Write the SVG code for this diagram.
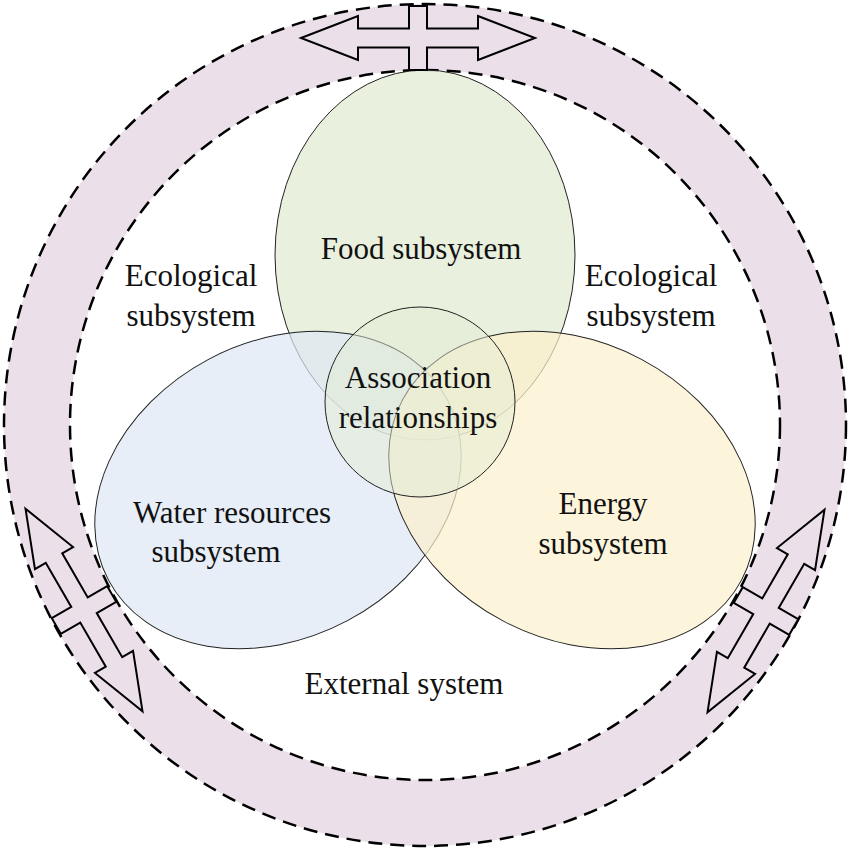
<svg xmlns="http://www.w3.org/2000/svg" width="851" height="851" viewBox="0 0 851 851">
<style>
.dash{fill:none;stroke:#000;stroke-width:2.5;stroke-dasharray:14 8}
.el{stroke:#222;stroke-width:1}
.arr{fill:#ebe0ea;stroke:#000;stroke-width:2}
text{font-family:"Liberation Serif","Times New Roman",serif;font-size:31px;fill:#111;text-anchor:middle}
</style>
<defs>
<path id="dbl" d="M-117,0 L-60,-22 L-60,-9.5 L-9,-9.5 L-9,-32 L9,-32 L9,-9.5 L60,-9.5 L60,-22 L117,0 L60,22 L60,9.5 L9,9.5 L9,32 L-9,32 L-9,9.5 L-60,9.5 L-60,22 Z"/>
</defs>
<rect width="851" height="851" fill="#fff"/>
<g id="ring">
<path d="M425,4 A421,421 0 1,1 424.9,4 Z M425,70 A355,355 0 1,0 425.1,70 Z" fill="#ebe0ea" fill-rule="evenodd"/>
<circle class="dash" cx="425" cy="425" r="421"/>
<circle class="dash" cx="425" cy="425" r="355"/>
</g>
<g id="food"><ellipse class="el" cx="425" cy="255" rx="150" ry="185" fill="#e3ecd6" fill-opacity="0.8"/></g>
<g id="water"><ellipse class="el" cx="278" cy="490" rx="192" ry="148" transform="rotate(-28 278 490)" fill="#dde7f4" fill-opacity="0.7"/></g>
<g id="energy"><ellipse class="el" cx="572" cy="490" rx="192" ry="148" transform="rotate(28 572 490)" fill="#fbefcc" fill-opacity="0.7"/></g>
<g id="center"><circle class="el" cx="420" cy="402" r="95" fill="#e3ebd3" fill-opacity="0.5"/></g>
<g id="connectors">
<use href="#dbl" class="arr" transform="translate(418,38)"/>
<use href="#dbl" class="arr" transform="translate(84,610) rotate(60)"/>
<use href="#dbl" class="arr" transform="translate(766,611) rotate(-60)"/>
</g>
<g id="labels">
<text x="421" y="259">Food subsystem</text>
<text x="191" y="286">Ecological</text>
<text x="191" y="326">subsystem</text>
<text x="651" y="286">Ecological</text>
<text x="651" y="326">subsystem</text>
<text x="418" y="388">Association</text>
<text x="418" y="428">relationships</text>
<text x="232" y="523">Water resources</text>
<text x="216" y="562">subsystem</text>
<text x="603" y="514">Energy</text>
<text x="603" y="554">subsystem</text>
<text x="404" y="694">External system</text>
</g>
</svg>
